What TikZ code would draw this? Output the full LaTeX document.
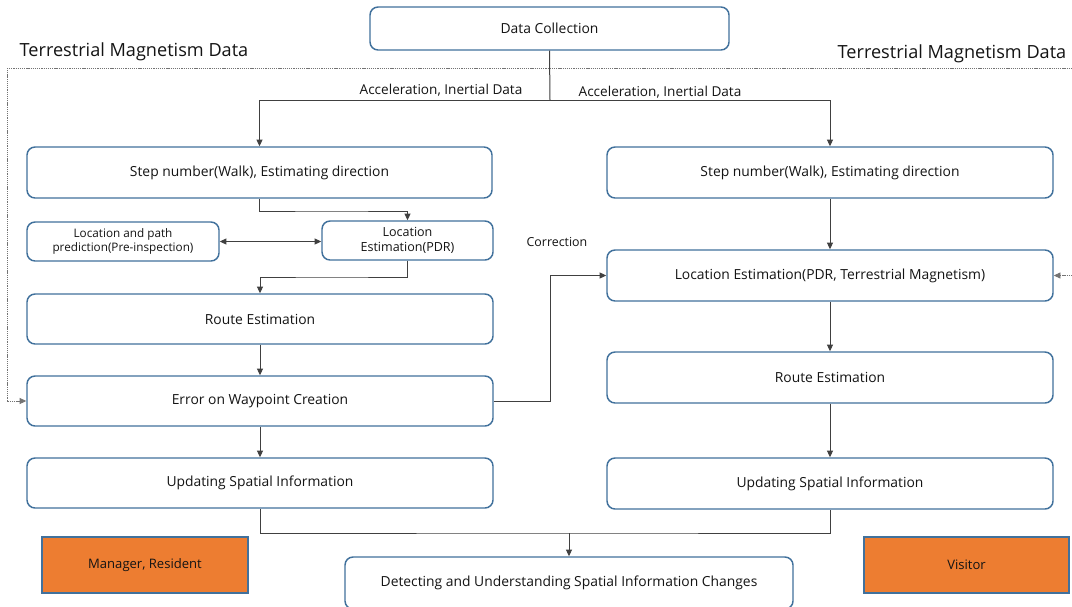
\documentclass[tikz,border=0pt]{standalone}
\usepackage{fontspec}
\setmainfont{Open Sans}
\usetikzlibrary{arrows.meta,calc}
\definecolor{boxblue}{RGB}{65,113,156}
\definecolor{orng}{RGB}{237,125,49}
\definecolor{linegray}{RGB}{64,64,64}
\definecolor{txt}{RGB}{20,20,20}
\tikzset{
  box/.style={draw=boxblue, line width=1.1pt, rounded corners=6pt, fill=white, inner sep=0pt, align=center, text=txt, font=\fontsize{10.4}{12}\selectfont},
  rolebox/.style={draw=boxblue, line width=1.1pt, fill=orng, inner sep=0pt, align=center, text=txt, font=\fontsize{9.8}{12}\selectfont},
  conn/.style={draw=linegray, line width=0.75pt},
  arr/.style={conn, -{Triangle[length=5pt,width=4.5pt]}},
  arrtwo/.style={conn, {Triangle[length=5pt,width=4.5pt]}-{Triangle[length=5pt,width=4.5pt]}},
  dotline/.style={draw=black!55, line width=0.6pt, dash pattern=on 0.8pt off 0.6pt},
  dotarr/.style={dotline, -{Triangle[length=5pt,width=4.5pt]}},
  biglabel/.style={inner sep=0pt, text=txt, font=\fontsize{13.6}{15}\selectfont},
  smalllabel/.style={inner sep=0pt, text=txt, font=\fontsize{10.2}{11}\selectfont},
}
\begin{document}
\begin{tikzpicture}[x=0.75pt, y=-0.75pt]
\clip (0,0) rectangle (1072,607);
\fill[white] (0,0) rectangle (1072,607);

% boxes
\node[box, minimum width=359*0.75pt, minimum height=43*0.75pt] (dc) at (549.5,28.5) {Data Collection};
\node[box, minimum width=465*0.75pt, minimum height=51*0.75pt] (stepL) at (259.5,172.5) {Step number(Walk), Estimating direction};
\node[box, minimum width=446*0.75pt, minimum height=51*0.75pt] (stepR) at (830,172.5) {Step number(Walk), Estimating direction};
\node[box, minimum width=192*0.75pt, minimum height=39*0.75pt, font=\fontsize{8.8}{11}\selectfont] (pred) at (123,241.5) {Location and path\\prediction(Pre-inspection)};
\node[box, minimum width=171*0.75pt, minimum height=39*0.75pt, font=\fontsize{9.4}{11.5}\selectfont] (pdr) at (407.5,240.5) {Location\\Estimation(PDR)};
\node[box, minimum width=466*0.75pt, minimum height=50*0.75pt] (routeL) at (260,319) {Route Estimation};
\node[box, minimum width=466*0.75pt, minimum height=50*0.75pt] (err) at (260,401) {Error on Waypoint Creation};
\node[box, minimum width=466*0.75pt, minimum height=50*0.75pt] (updL) at (260,483) {Updating Spatial Information};
\node[box, minimum width=446*0.75pt, minimum height=51*0.75pt] (locR) at (830,275.5) {Location Estimation(PDR, Terrestrial Magnetism)};
\node[box, minimum width=446*0.75pt, minimum height=51*0.75pt] (routeR) at (830,377.5) {Route Estimation};
\node[box, minimum width=446*0.75pt, minimum height=51*0.75pt] (updR) at (830,483.5) {Updating Spatial Information};
\node[box, minimum width=448*0.75pt, minimum height=52*0.75pt] (det) at (569,583) {Detecting and Understanding Spatial Information Changes};
\node[rolebox, minimum width=206*0.75pt, minimum height=56*0.75pt] (mgr) at (145,565) {Manager, Resident};
\node[rolebox, minimum width=205*0.75pt, minimum height=56*0.75pt] (vis) at (966.5,565) {Visitor};

% labels
\node[biglabel] (tmL) at (134,52) {Terrestrial Magnetism Data};
\node[biglabel] (tmR) at (952,54) {Terrestrial Magnetism Data};
\node[smalllabel] (accL) at (441,90) {Acceleration, Inertial Data};
\node[smalllabel] (accR) at (660,92) {Acceleration, Inertial Data};
\node[smalllabel, font=\fontsize{9.3}{11}\selectfont] (corr) at (557,242) {Correction};

% connectors
\coordinate (j1) at (550,100);
\draw[conn] (dc.south) -- (j1);
\draw[arr] (j1) -| (stepL.north);
\draw[arr] (j1) -| (stepR.north);

\coordinate (k1) at (330,211);
\draw[arr] (stepL.south) |- (k1) -| (pdr.north);
\draw[arrtwo] (pred.east) -- (pred.east -| pdr.west);
\coordinate (k2) at (330,277);
\draw[arr] (pdr.south) |- (k2) -| (routeL.north);
\draw[arr] (routeL) -- (err);
\draw[arr] (err) -- (updL);

\coordinate (c1) at (550,275.5);
\draw[arr] (err.east) -| (c1) -- (locR.west);

\draw[arr] (stepR) -- (locR);
\draw[arr] (locR) -- (routeR);
\draw[arr] (routeR) -- (updR);

\coordinate (m) at (569,533);
\draw[conn] (updL.south) |- (m) -| (updR.south);
\draw[arr] (m) -- (det.north);

% dotted magnetism lines
\coordinate (d1) at (7,68);
\coordinate (d2) at (1072,68);
\coordinate (d3) at (1072,275.5);
\draw[dotline] (d2) -- (d1);
\draw[dotarr] (d1) |- (err.west);
\draw[dotarr] (d3) -- (locR.east);
\end{tikzpicture}
\end{document}
